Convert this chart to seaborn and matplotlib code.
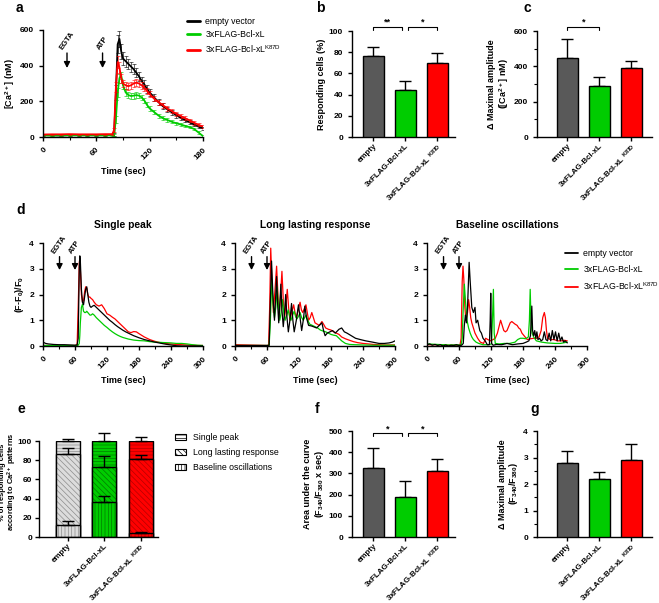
import numpy as np
import matplotlib
matplotlib.use("Agg")
import matplotlib.pyplot as plt
from matplotlib.patches import Patch, Rectangle
from matplotlib.ticker import MultipleLocator
import seaborn as sns

# Prism-like look: ticks style, bold Arial-like font
sns.set_style("ticks")
plt.rcParams["font.family"] = ["Liberation Sans", "DejaVu Sans"]
plt.rcParams["font.weight"] = "bold"
plt.rcParams["axes.labelweight"] = "bold"
plt.rcParams["axes.titleweight"] = "bold"
plt.rcParams["mathtext.default"] = "regular"
plt.rcParams["axes.linewidth"] = 1.0
plt.rcParams["axes.edgecolor"] = "black"
plt.rcParams["text.color"] = "black"
plt.rcParams["axes.labelcolor"] = "black"
plt.rcParams["hatch.linewidth"] = 0.5
for k in ("xtick", "ytick"):
    plt.rcParams[f"{k}.major.size"] = 3
    plt.rcParams[f"{k}.major.width"] = 1
    plt.rcParams[f"{k}.minor.size"] = 2
    plt.rcParams[f"{k}.minor.width"] = 0.8
    plt.rcParams[f"{k}.labelsize"] = 6
    plt.rcParams[f"{k}.color"] = "black"
    plt.rcParams[f"{k}.labelcolor"] = "black"

# ---------------- data ----------------
groups = ["empty", "Bcl-xL", "K87D"]
tick_labels = ["empty", "3xFLAG-Bcl-xL", "3xFLAG-Bcl-xL $^{K87D}$"]
legend_labels = ["empty vector", "3xFLAG-Bcl-xL", "3xFLAG-Bcl-xL$^{K87D}$"]
bar_colors = ["#595959", "#00cc00", "#ff0000"]
line_colors = ["#000000", "#00cc00", "#ff0000"]

# panel a: mean [Ca2+] traces (nM) with SEM
a_time = [0, 10, 20, 30, 40, 50, 60, 70, 78, 80, 82, 84, 86, 88, 90, 93, 96, 99, 102,
          105, 108, 111, 114, 117, 120, 125, 130, 135, 140, 145, 150, 155, 160, 165,
          170, 175, 180]
a_empty = [10, 10, 8, 10, 10, 10, 10, 10, 12, 15, 250, 520, 550, 480, 440, 425, 410,
           395, 380, 360, 340, 315, 295, 270, 250, 222, 195, 172, 155, 138, 122, 107,
           94, 82, 70, 58, 48]
a_empty_err = [3, 3, 3, 3, 3, 3, 3, 3, 3, 10, 40, 50, 45, 40, 35, 32, 30, 28, 27, 26,
               25, 24, 23, 22, 21, 19, 18, 17, 16, 15, 14, 13, 12, 11, 10, 10, 9]
a_bcl = [10, 8, 10, 10, 10, 10, 10, 10, 10, 10, 100, 250, 330, 345, 290, 250, 235, 230,
         232, 235, 232, 222, 205, 180, 160, 140, 120, 105, 95, 85, 77, 70, 62, 55, 45,
         25, 5]
a_bcl_err = [3, 3, 3, 3, 3, 3, 3, 3, 3, 5, 20, 25, 25, 22, 20, 18, 17, 17, 17, 17, 16,
             15, 15, 14, 13, 12, 11, 10, 10, 9, 9, 8, 8, 7, 7, 6, 5]
a_k87d = [14, 15, 15, 16, 15, 15, 15, 16, 16, 40, 280, 420, 390, 330, 300, 290, 285,
          290, 300, 305, 300, 290, 275, 258, 240, 215, 195, 178, 160, 145, 130, 117,
          105, 93, 80, 68, 58]
a_k87d_err = [3, 3, 3, 3, 3, 3, 3, 3, 3, 10, 30, 35, 30, 25, 22, 20, 20, 20, 20, 20,
              20, 19, 18, 17, 16, 15, 14, 13, 12, 12, 11, 11, 10, 10, 10, 9, 9]

# panel b, c, f, g: mean and upper SEM
resp_mean = [76, 44, 70]
resp_err = [9, 9, 9]
amp_mean = [450, 290, 390]
amp_err = [105, 50, 40]
auc_mean = [327, 187, 312]
auc_err = [95, 75, 58]
ratio_mean = [2.8, 2.2, 2.9]
ratio_err = [0.43, 0.25, 0.6]

# panel d: single cell traces (F-F0)/F0
sp_time = [0, 5, 10, 20, 30, 40, 50, 60, 64, 66, 68, 69, 70, 72, 74, 76, 78, 80, 82,
           84, 86, 88, 90, 93, 96, 100, 105, 110, 115, 120, 125, 130, 135, 140, 145,
           150, 155, 160, 165, 170, 175, 180, 190, 200, 210, 220, 230, 240, 250, 260,
           270, 280, 290, 300]
sp_empty = [0.15, 0.1, 0.08, 0.06, 0.05, 0.05, 0.04, 0.03, 0.04, 0.3, 3.0, 3.5, 3.3,
            2.2, 1.7, 1.6, 1.9, 2.2, 2.3, 2.0, 1.7, 1.55, 1.5, 1.55, 1.58, 1.5, 1.4,
            1.3, 1.2, 1.1, 1.0, 0.92, 0.83, 0.75, 0.68, 0.61, 0.55, 0.5, 0.45, 0.4,
            0.36, 0.32, 0.25, 0.2, 0.15, 0.11, 0.07, 0.04, 0.01, 0.0, 0.0, 0.0, 0.0, 0.0]
sp_bcl = [0.02, 0.02, 0.02, 0.02, 0.02, 0.02, 0.02, 0.02, 0.02, 0.03, 0.1, 0.4, 0.9,
          1.5, 1.62, 1.35, 1.3, 1.3, 1.35, 1.3, 1.25, 1.2, 1.2, 1.25, 1.2, 1.1, 1.0,
          0.9, 0.8, 0.72, 0.63, 0.55, 0.48, 0.42, 0.37, 0.33, 0.3, 0.27, 0.25, 0.23,
          0.22, 0.21, 0.2, 0.17, 0.15, 0.14, 0.13, 0.12, 0.1, 0.1, 0.08, 0.05, 0.03, 0.02]
sp_k87d = [0.02, 0.02, 0.02, 0.02, 0.02, 0.02, 0.02, 0.02, 0.05, 1.5, 3.2, 3.4, 3.0,
           2.0, 1.7, 1.75, 2.1, 2.3, 2.25, 2.0, 1.9, 1.9, 1.85, 1.8, 1.7, 1.6, 1.55,
           1.6, 1.45, 1.25, 1.2, 1.12, 1.05, 0.95, 0.85, 0.75, 0.65, 0.55, 0.52, 0.56,
           0.55, 0.48, 0.35, 0.25, 0.18, 0.13, 0.1, 0.08, 0.06, 0.05, 0.04, 0.03, 0.02,
           0.02]

ll_empty_t = [0, 20, 40, 60, 64, 66, 68.5, 71, 74, 76, 78, 80, 82, 84, 86, 88, 90.5, 93,
              95, 97.5, 100, 103, 106, 108.5, 111, 115, 119, 122, 125, 128, 131, 134,
              138, 143, 147, 153, 158, 163, 166, 169, 173, 178, 183, 188, 195, 200, 205,
              210, 218, 226, 235, 245, 258, 270, 280, 289, 295, 300]
ll_empty = [0.02, 0.02, 0.02, 0.02, 0.03, 1.5, 3.3, 2.0, 1.0, 1.8, 2.7, 1.6, 0.9, 1.6,
            2.4, 1.4, 0.75, 1.3, 2.0, 1.1, 0.55, 1.0, 1.65, 1.0, 0.55, 1.0, 1.6, 1.1,
            0.6, 1.0, 1.55, 1.1, 0.8, 0.78, 0.75, 0.7, 0.8, 0.9, 0.6, 0.4, 0.5, 0.55,
            0.6, 0.5, 0.65, 0.7, 0.55, 0.5, 0.4, 0.3, 0.25, 0.2, 0.15, 0.1, 0.1, 0.12,
            0.15, 0.2]
ll_bcl_t = [0, 20, 40, 60, 64, 66, 69, 71.5, 74, 76.5, 79, 81.5, 84, 86.5, 89, 91.5, 94,
            97, 100, 102.5, 105, 108, 111, 113.5, 116, 119, 122, 125, 128, 130.5, 133,
            136.5, 140, 145, 150, 155, 160, 165, 170, 175, 180, 185, 190, 195, 200, 207,
            215, 225, 240, 260, 280, 300]
ll_bcl = [0.02, 0.02, 0.02, 0.02, 0.02, 0.8, 2.6, 1.6, 1.1, 1.5, 2.3, 1.5, 1.0, 1.3,
          1.8, 1.3, 1.0, 1.2, 1.4, 1.15, 1.0, 1.2, 1.35, 1.15, 1.05, 1.15, 1.3, 1.1,
          1.0, 1.1, 1.2, 1.0, 0.85, 0.8, 0.75, 0.7, 0.62, 0.58, 0.55, 0.5, 0.45, 0.42,
          0.4, 0.3, 0.2, 0.1, 0.06, 0.05, 0.04, 0.03, 0.03, 0.03]
ll_k87d_t = [0, 20, 40, 60, 63, 65, 67, 69.5, 72, 75, 78, 80.5, 83, 85.5, 88, 90.5, 93,
             95.5, 98, 100.5, 103, 106, 110, 112.5, 115, 118.5, 122, 124.5, 127, 130,
             133, 135.5, 138, 141, 144, 147, 150, 154, 158, 163, 166, 170, 175, 180,
             185, 190, 195, 200, 207, 215, 222, 230, 240, 250, 260, 270, 280, 290, 300]
ll_k87d = [0.05, 0.04, 0.03, 0.02, 0.03, 1.5, 3.8, 2.3, 1.3, 2.2, 3.1, 2.0, 1.2, 2.0,
           2.9, 1.8, 1.1, 1.6, 2.2, 1.5, 1.0, 1.3, 1.6, 1.3, 1.1, 1.4, 1.7, 1.4, 1.3,
           1.45, 1.6, 1.3, 1.0, 1.1, 1.3, 1.1, 0.9, 0.85, 0.8, 0.95, 0.85, 0.7, 0.65,
           0.62, 0.55, 0.5, 0.45, 0.35, 0.28, 0.22, 0.17, 0.13, 0.1, 0.08, 0.06, 0.05,
           0.04, 0.04, 0.04]

bo_empty_t = [0, 5, 10, 15, 20, 25, 30, 35, 40, 45, 50, 55, 60, 65, 68, 70, 72, 74, 76,
              79, 81, 84, 87, 90, 92, 95, 99, 102, 105, 109, 113, 117, 118.5, 119.5,
              121, 124, 130, 140, 150, 160, 170, 180, 186, 191, 194, 196.5, 198, 200,
              202, 204, 206, 208, 211, 214, 217, 220, 223, 226, 229, 232, 235, 238, 241,
              244, 247, 250, 253, 256, 259, 263]
bo_empty = [0.05, 0.08, 0.03, 0.06, 0.02, 0.05, 0.0, 0.04, 0.0, 0.03, 0.02, 0.05, 0.02,
            0.03, 0.1, 0.8, 1.2, 0.9, 1.5, 3.25, 2.5, 1.5, 1.3, 1.5, 0.9, 1.0, 0.6, 0.5,
            0.3, 0.2, 0.05, 0.05, 1.0, 2.05, 0.1, 0.03, 0.06, 0.05, 0.1, 0.05, 0.08, 0.1,
            0.15, 0.2, 0.4, 1.55, 0.6, 0.4, 0.6, 0.3, 0.55, 0.25, 0.3, 0.2, 0.25, 0.55,
            0.25, 0.2, 0.5, 0.2, 0.6, 0.25, 0.55, 0.2, 0.5, 0.2, 0.35, 0.15, 0.2, 0.12]
bo_bcl_t = [0, 20, 40, 60, 64, 66, 68, 70, 72, 75, 78, 81, 84, 87, 92, 97, 105, 115,
            121, 123, 124.5, 126, 128, 135, 145, 155, 165, 170, 175, 180, 185, 190, 192,
            193.5, 195, 197, 200, 205, 215, 225, 240, 250, 263]
bo_bcl = [0.08, 0.06, 0.04, 0.04, 0.05, 0.3, 1.5, 2.4, 1.8, 1.0, 0.7, 0.5, 0.35, 0.25,
          0.15, 0.1, 0.05, 0.05, 0.08, 1.2, 2.2, 0.5, 0.1, 0.08, 0.1, 0.1, 0.15, 0.25,
          0.3, 0.3, 0.28, 0.35, 1.0, 2.2, 1.0, 0.5, 0.35, 0.2, 0.15, 0.12, 0.1, 0.1, 0.15]
bo_k87d_t = [0, 20, 40, 60, 62, 64, 66, 67.5, 69, 71, 73, 76, 78, 80, 82, 84, 87, 90,
             95, 100, 106, 110, 114, 119, 124, 128, 132, 135, 138, 141, 144, 147, 150,
             153, 156, 159, 162, 165, 169, 172, 175, 178, 182, 188, 194, 200, 205, 210,
             214, 217, 220, 222, 224, 226, 232, 238, 245, 252, 258, 263]
bo_k87d = [0.05, 0.05, 0.03, 0.03, 0.05, 0.3, 2.5, 3.1, 2.6, 1.5, 1.0, 1.3, 1.8, 1.5,
           1.1, 0.9, 0.7, 0.5, 0.3, 0.15, 0.1, 0.3, 0.25, 0.2, 0.25, 0.3, 0.5, 0.75,
           1.0, 0.8, 0.6, 0.55, 0.6, 0.75, 0.9, 0.95, 0.9, 0.85, 0.8, 0.7, 0.65, 0.5,
           0.4, 0.25, 0.28, 0.3, 0.3, 0.35, 0.6, 1.1, 1.3, 1.1, 0.6, 0.3, 0.25, 0.25,
           0.2, 0.2, 0.22, 0.2]

d_titles = ["Single peak", "Long lasting response", "Baseline oscillations"]

# panel e: % of responding cells per pattern (stacked) with upper SEM
pattern_names = ["Single peak", "Long lasting response", "Baseline oscillations"]
pct_baseline = [12, 36, 4]
pct_long = [74.5, 36.5, 77.5]
pct_single = [13.5, 27.5, 18.5]
err_baseline = [5, 7, 1]
err_long = [6.5, 11.5, 3.5]
err_single = [2.5, 8, 4.5]

# ---------------- figure ----------------
W, H = 659, 603
fig = plt.figure(figsize=(W / 100, H / 100), dpi=100)


def px(l, t, r, b):
    return [l / W, 1 - b / H, (r - l) / W, (b - t) / H]


def arrows(ax, xs, names, tail, tip, ytxt):
    for x, n in zip(xs, names):
        ax.annotate("", xy=(x, tip), xytext=(x, tail),
                    arrowprops=dict(arrowstyle="-|>,head_length=0.35,head_width=0.18",
                                    color="black", lw=1, shrinkA=0, shrinkB=0))
        ax.text(x, ytxt, n, rotation=55, ha="center", va="bottom", fontsize=5.5)


def time_axis(ax, xmax, step):
    ax.set_xlim(0, xmax)
    ax.set_xticks(np.arange(0, xmax + 1, step))
    ax.xaxis.set_minor_locator(MultipleLocator(step / 2))
    plt.setp(ax.get_xticklabels(), rotation=45, ha="right", rotation_mode="anchor")
    ax.set_xlabel("Time (sec)", fontsize=6.5)
    sns.despine(ax=ax)


def bracket(ax, x0, x1, y, h, txt):
    ax.plot([x0, x0, x1, x1], [y - h, y, y, y - h], color="black", lw=0.8, clip_on=False)
    ax.text((x0 + x1) / 2, y, txt, ha="center", va="bottom", fontsize=6.5)


def group_ticks(ax):
    ax.set_xticks(range(3))
    ax.set_xticklabels(tick_labels, rotation=45, ha="right", rotation_mode="anchor",
                       fontsize=5.8)
    ax.tick_params(axis="x", pad=1)
    ax.set_xlabel("")


def bar_panel(ax, means, errs, ymax, ystep, xlim, ylabel, minor=None):
    sns.barplot(x=groups, y=means, hue=groups, palette=bar_colors, legend=False,
                errorbar=None, width=0.66, saturation=1, edgecolor="black",
                linewidth=1, ax=ax, zorder=3)
    ax.errorbar(range(3), means, yerr=[np.zeros(3), errs], fmt="none", ecolor="black",
                elinewidth=1, capsize=4, capthick=1, zorder=2)
    ax.set_ylim(0, ymax)
    ax.set_yticks(np.arange(0, ymax + ystep / 2, ystep))
    if minor:
        ax.yaxis.set_minor_locator(MultipleLocator(minor))
    ax.set_xlim(*xlim)
    group_ticks(ax)
    ax.set_ylabel(ylabel, fontsize=6.5, labelpad=2, linespacing=1.1)
    sns.despine(ax=ax)


# panel a
ax_a = fig.add_axes(px(43, 30, 203, 137))
for vals, errs, col, lab in zip([a_empty, a_bcl, a_k87d],
                                [a_empty_err, a_bcl_err, a_k87d_err],
                                line_colors, legend_labels):
    ax_a.errorbar(a_time, vals, yerr=errs, fmt="none", ecolor=col, elinewidth=0.6,
                  capsize=1.2, capthick=0.6, alpha=0.7)
    sns.lineplot(x=a_time, y=vals, color=col, lw=1.3, label=lab, ax=ax_a)
ax_a.set_ylim(0, 600)
ax_a.set_yticks([0, 200, 400, 600])
time_axis(ax_a, 180, 60)
ax_a.set_ylabel("[Ca$^{2+}$] (nM)", fontsize=6.5, labelpad=2)
arrows(ax_a, [27, 67], ["EGTA", "ATP"], 471, 387, 480)
leg = ax_a.legend(loc="upper left", bbox_to_anchor=(187 / W, 1 - 17 / H),
                  bbox_transform=fig.transFigure, frameon=False,
                  prop={"weight": "normal", "size": 6.3}, handlelength=1.5,
                  handletextpad=0.6, labelspacing=0.45, borderpad=0, borderaxespad=0)
for ln in leg.get_lines():
    ln.set_linewidth(2)

# panel b
ax_b = fig.add_axes(px(352, 31, 455, 137))
bar_panel(ax_b, resp_mean, resp_err, 100, 20, (-0.66, 2.55), "Responding cells (%)")
bracket(ax_b, 0, 0.9, 104, 3, "**")
bracket(ax_b, 1.1, 2, 104, 3, "*")

# panel c
ax_c = fig.add_axes(px(537, 31, 652, 137))
bar_panel(ax_c, amp_mean, amp_err, 600, 200, (-0.94, 2.64),
          "Δ Maximal amplitude\n([Ca$^{2+}$] nM)", minor=100)
bracket(ax_c, 0, 1, 624, 18, "*")

# panel d
d_data = [
    [(sp_time, sp_k87d), (sp_time, sp_bcl), (sp_time, sp_empty)],
    [(ll_k87d_t, ll_k87d), (ll_bcl_t, ll_bcl), (ll_empty_t, ll_empty)],
    [(bo_k87d_t, bo_k87d), (bo_bcl_t, bo_bcl), (bo_empty_t, bo_empty)],
]
d_lefts = [43, 235, 427]
for i, (left, title, traces) in enumerate(zip(d_lefts, d_titles, d_data)):
    ax = fig.add_axes(px(left, 243, left + 160, 346))
    for (t, y), col, lab in zip(traces, line_colors[::-1], legend_labels[::-1]):
        sns.lineplot(x=t, y=y, color=col, lw=0.9, label=lab, ax=ax, legend=False)
    ax.set_ylim(0, 4)
    ax.set_yticks([0, 1, 2, 3, 4])
    time_axis(ax, 300, 60)
    ax.set_title(title, fontsize=7.4, pad=10.5)
    arrows(ax, [31, 60], ["EGTA", "ATP"], 3.47, 2.95, 3.52)
    if i == 0:
        ax.set_ylabel("(F-F$_0$)/F$_0$", fontsize=6.5, labelpad=2)
    else:
        ax.set_ylabel("")
    if i == 2:
        h, l = ax.get_legend_handles_labels()
        dleg = ax.legend(h[::-1], l[::-1], loc="upper left",
                         bbox_to_anchor=(565 / W, 1 - 249 / H),
                         bbox_transform=fig.transFigure, frameon=False,
                         prop={"weight": "normal", "size": 6.3}, handlelength=1.5,
                         handletextpad=0.6, labelspacing=0.75, borderpad=0,
                         borderaxespad=0)
        for ln in dleg.get_lines():
            ln.set_linewidth(1.3)

# panel e: stacked hatched bars
ax_e = fig.add_axes(px(39, 441, 158, 537))
base = np.array(pct_baseline)
mid = base + np.array(pct_long)
top = mid + np.array(pct_single)
e_face = ["#dcdcdc", "#00cc00", "#ff0000"]
e_hatch_col = ["#8c8c8c", "#007a00", "#b30000"]
layers = [(top, err_single, "-----"), (mid, err_long, "\\\\\\\\\\\\"),
          (base, err_baseline, "|||||")]
for heights, errs, hatch in layers:
    n0 = len(ax_e.patches)
    sns.barplot(x=groups, y=heights, hue=groups, palette=e_face, legend=False,
                errorbar=None, width=0.66, saturation=1, ax=ax_e)
    for p, hc in zip(ax_e.patches[n0:], e_hatch_col):
        p.set_hatch(hatch)
        p.set_edgecolor(hc)
        p.set_linewidth(0.5)
        ax_e.add_patch(Rectangle(p.get_xy(), p.get_width(), p.get_height(),
                                 fill=False, ec="black", lw=1))
for heights, errs, hatch in layers:
    eb = ax_e.errorbar(range(3), heights, yerr=[np.zeros(3), errs], fmt="none",
                       ecolor="black", elinewidth=1, capsize=4, capthick=1, zorder=3)
    for art in eb.lines[1] + eb.lines[2]:
        art.set_clip_on(False)
ax_e.set_ylim(0, 100)
ax_e.set_yticks(np.arange(0, 101, 20))
ax_e.tick_params(axis="y", pad=2)
ax_e.set_xlim(-0.79, 2.47)
group_ticks(ax_e)
ax_e.set_ylabel("")
sns.despine(ax=ax_e)
# two-line y label placed by hand, as in the original
fig.text(9 / W, 1 - 482 / H, "% of responding cells\naccording to Ca$^{2+}$ patterns",
         rotation=90, ha="center", va="center", multialignment="center",
         fontsize=5.4, fontweight="bold", linespacing=1.0)
e_handles = [Patch(facecolor="white", edgecolor="black", hatch=h, lw=0.8, label=n)
             for n, h in zip(pattern_names, ["-----", "\\\\\\\\\\\\", "|||||"])]
ax_e.legend(handles=e_handles, loc="upper left", bbox_to_anchor=(175 / W, 1 - 433 / H),
            bbox_transform=fig.transFigure, frameon=False,
            prop={"weight": "normal", "size": 6.3}, handlelength=1.2, handleheight=0.7,
            handletextpad=0.9, labelspacing=0.7, borderpad=0, borderaxespad=0)

# panel f
ax_f = fig.add_axes(px(352, 431, 455, 537))
bar_panel(ax_f, auc_mean, auc_err, 500, 100, (-0.66, 2.55),
          "Area under the curve\n(F$_{340}$/F$_{380}$ x sec)")
bracket(ax_f, 0, 0.9, 490, 14, "*")
bracket(ax_f, 1.1, 2, 490, 14, "*")

# panel g
ax_g = fig.add_axes(px(537, 431, 652, 537))
bar_panel(ax_g, ratio_mean, ratio_err, 4, 1, (-0.94, 2.64),
          "Δ Maximal amplitude\n(F$_{340}$/F$_{380}$)", minor=0.5)

# panel letters
for letter, x, y in [("a", 16, 12), ("b", 316, 12), ("c", 524, 12), ("d", 16, 214),
                     ("e", 17, 413), ("f", 315, 413), ("g", 530, 413)]:
    fig.text(x / W, 1 - y / H, letter, fontsize=10, fontweight="bold", va="baseline")

fig.savefig("out.png", dpi=100)
